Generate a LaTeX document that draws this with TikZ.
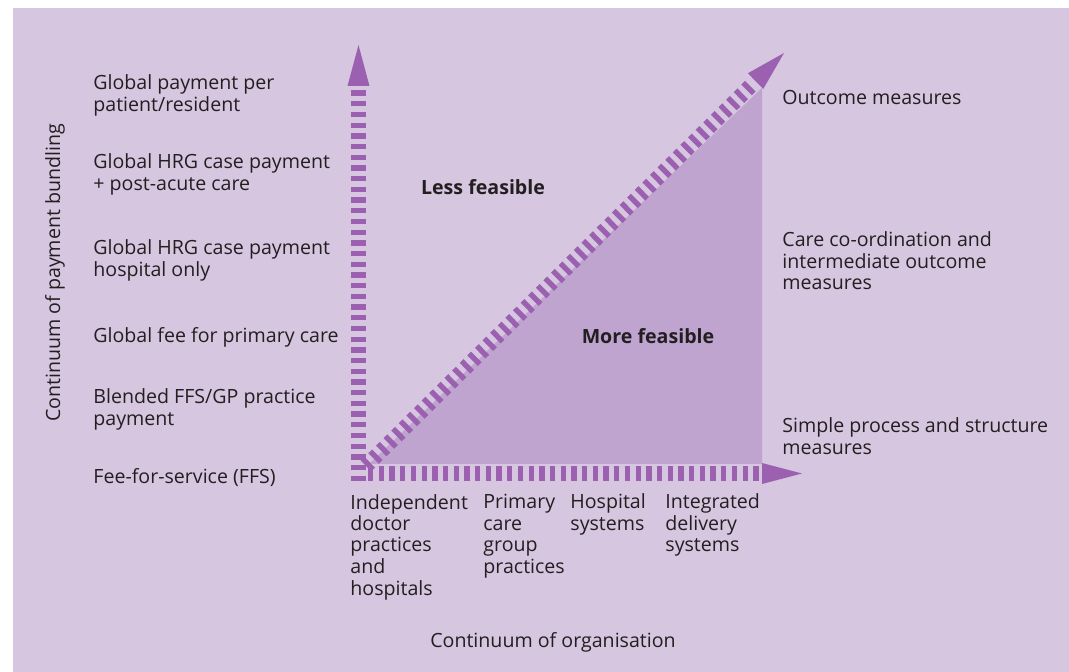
\documentclass[tikz,border=0pt]{standalone}
\usepackage{fontspec}
\setmainfont{Open Sans}
\usetikzlibrary{calc}
\definecolor{bgLilac}{HTML}{D6C6E0}
\definecolor{triLilac}{HTML}{BEA4CF}
\definecolor{barPurple}{HTML}{9B61B0}
\definecolor{inkGrey}{HTML}{231F20}
\tikzset{
bar/.style = {draw=barPurple, line width=7.5pt, dash pattern=on 2.65pt off 2.7pt},
head/.style = {fill=barPurple},
lbl/.style = {anchor=base west, align=left, inner sep=0pt, text=inkGrey,
  font=\fontsize{9.8}{10.75}\selectfont},
feas/.style = {lbl, anchor=base, font=\fontsize{9.8}{10.75}\selectfont\bfseries},
}

\begin{document}
\begin{tikzpicture}[x=0.5pt, y=-0.5pt]
    \useasboundingbox (0,0) rectangle (1069,672);
    \fill[bgLilac] (13,8) rectangle (1069,672);

    % feasible region under the diagonal
    \fill[triLilac] (369,464) -- (762,88) -- (762,464) -- cycle;

    % axes
    \coordinate (origin) at (358.5,481);
    \coordinate (yBase) at (358.5,86);
    \coordinate (yTip) at (358.5,45);
    \coordinate (xStart) at (368,473.5);
    \coordinate (xBase) at (762,473.5);
    \coordinate (xTip) at (802,473.5);
    \coordinate (dStart) at (366,466);
    \coordinate (dTip) at (784,53);
    \coordinate (dBase) at ($(dTip)!20pt!(dStart)$);

    \draw[bar] (origin) -- ($(yBase)+(0,2)$);
    \draw[bar] (xStart) -- ($(xBase)+(-3,0)$);
    \draw[bar] (dStart) -- ($(dTip)!22pt!(dStart)$);

    \fill[head] ($(yBase)+(-11,0)$) -- (yTip) -- ($(yBase)+(11,0)$) -- cycle;
    \fill[head] ($(xBase)+(0,-10.5)$) -- (xTip) -- ($(xBase)+(0,10.5)$) -- cycle;
    \fill[head] ($(dBase)!5.5pt!90:(dTip)$) -- (dTip) -- ($(dBase)!5.5pt!-90:(dTip)$) -- cycle;

    % payment bundling levels (multi-line nodes sit on their last line)
    \node[lbl] (payGlobal) at (93,111.5) {Global payment per\\patient/resident};
    \node[lbl] (payHRGpost) at (93,190.5) {Global HRG case payment\\+ post-acute care};
    \node[lbl] (payHRGhosp) at (93,276.5) {Global HRG case payment\\hospital only};
    \node[lbl] (payPrimary) at (93,343) {Global fee for primary care};
    \node[lbl] (payBlended) at (93,425.5) {Blended FFS/GP practice\\payment};
    \node[lbl] (payFFS) at (93,484) {Fee-for-service (FFS)};

    % organisation levels
    \node[lbl] (orgIndep) at (350,595) {Independent\\doctor\\practices\\and\\hospitals};
    \node[lbl] (orgPrimary) at (483,573.5) {Primary\\care\\group\\practices};
    \node[lbl] (orgHospital) at (570,530.5) {Hospital\\systems};
    \node[lbl] (orgIntegrated) at (665,552) {Integrated\\delivery\\systems};

    % measures
    \node[lbl] (measOutcome) at (782,105) {Outcome measures};
    \node[lbl] (measCare) at (782,290) {Care co-ordination and\\intermediate outcome\\measures};
    \node[lbl] (measSimple) at (782,454.5) {Simple process and structure\\measures};

    \node[feas] (lessFeas) at (483,195) {Less feasible};
    \node[feas] (moreFeas) at (648,344) {More feasible};

    % axis titles
    \node[lbl, anchor=base, rotate=90] (axisPay) at (60,273) {Continuum of payment bundling};
    \node[lbl, anchor=base] (axisOrg) at (553,647) {Continuum of organisation};
\end{tikzpicture}
\end{document}
